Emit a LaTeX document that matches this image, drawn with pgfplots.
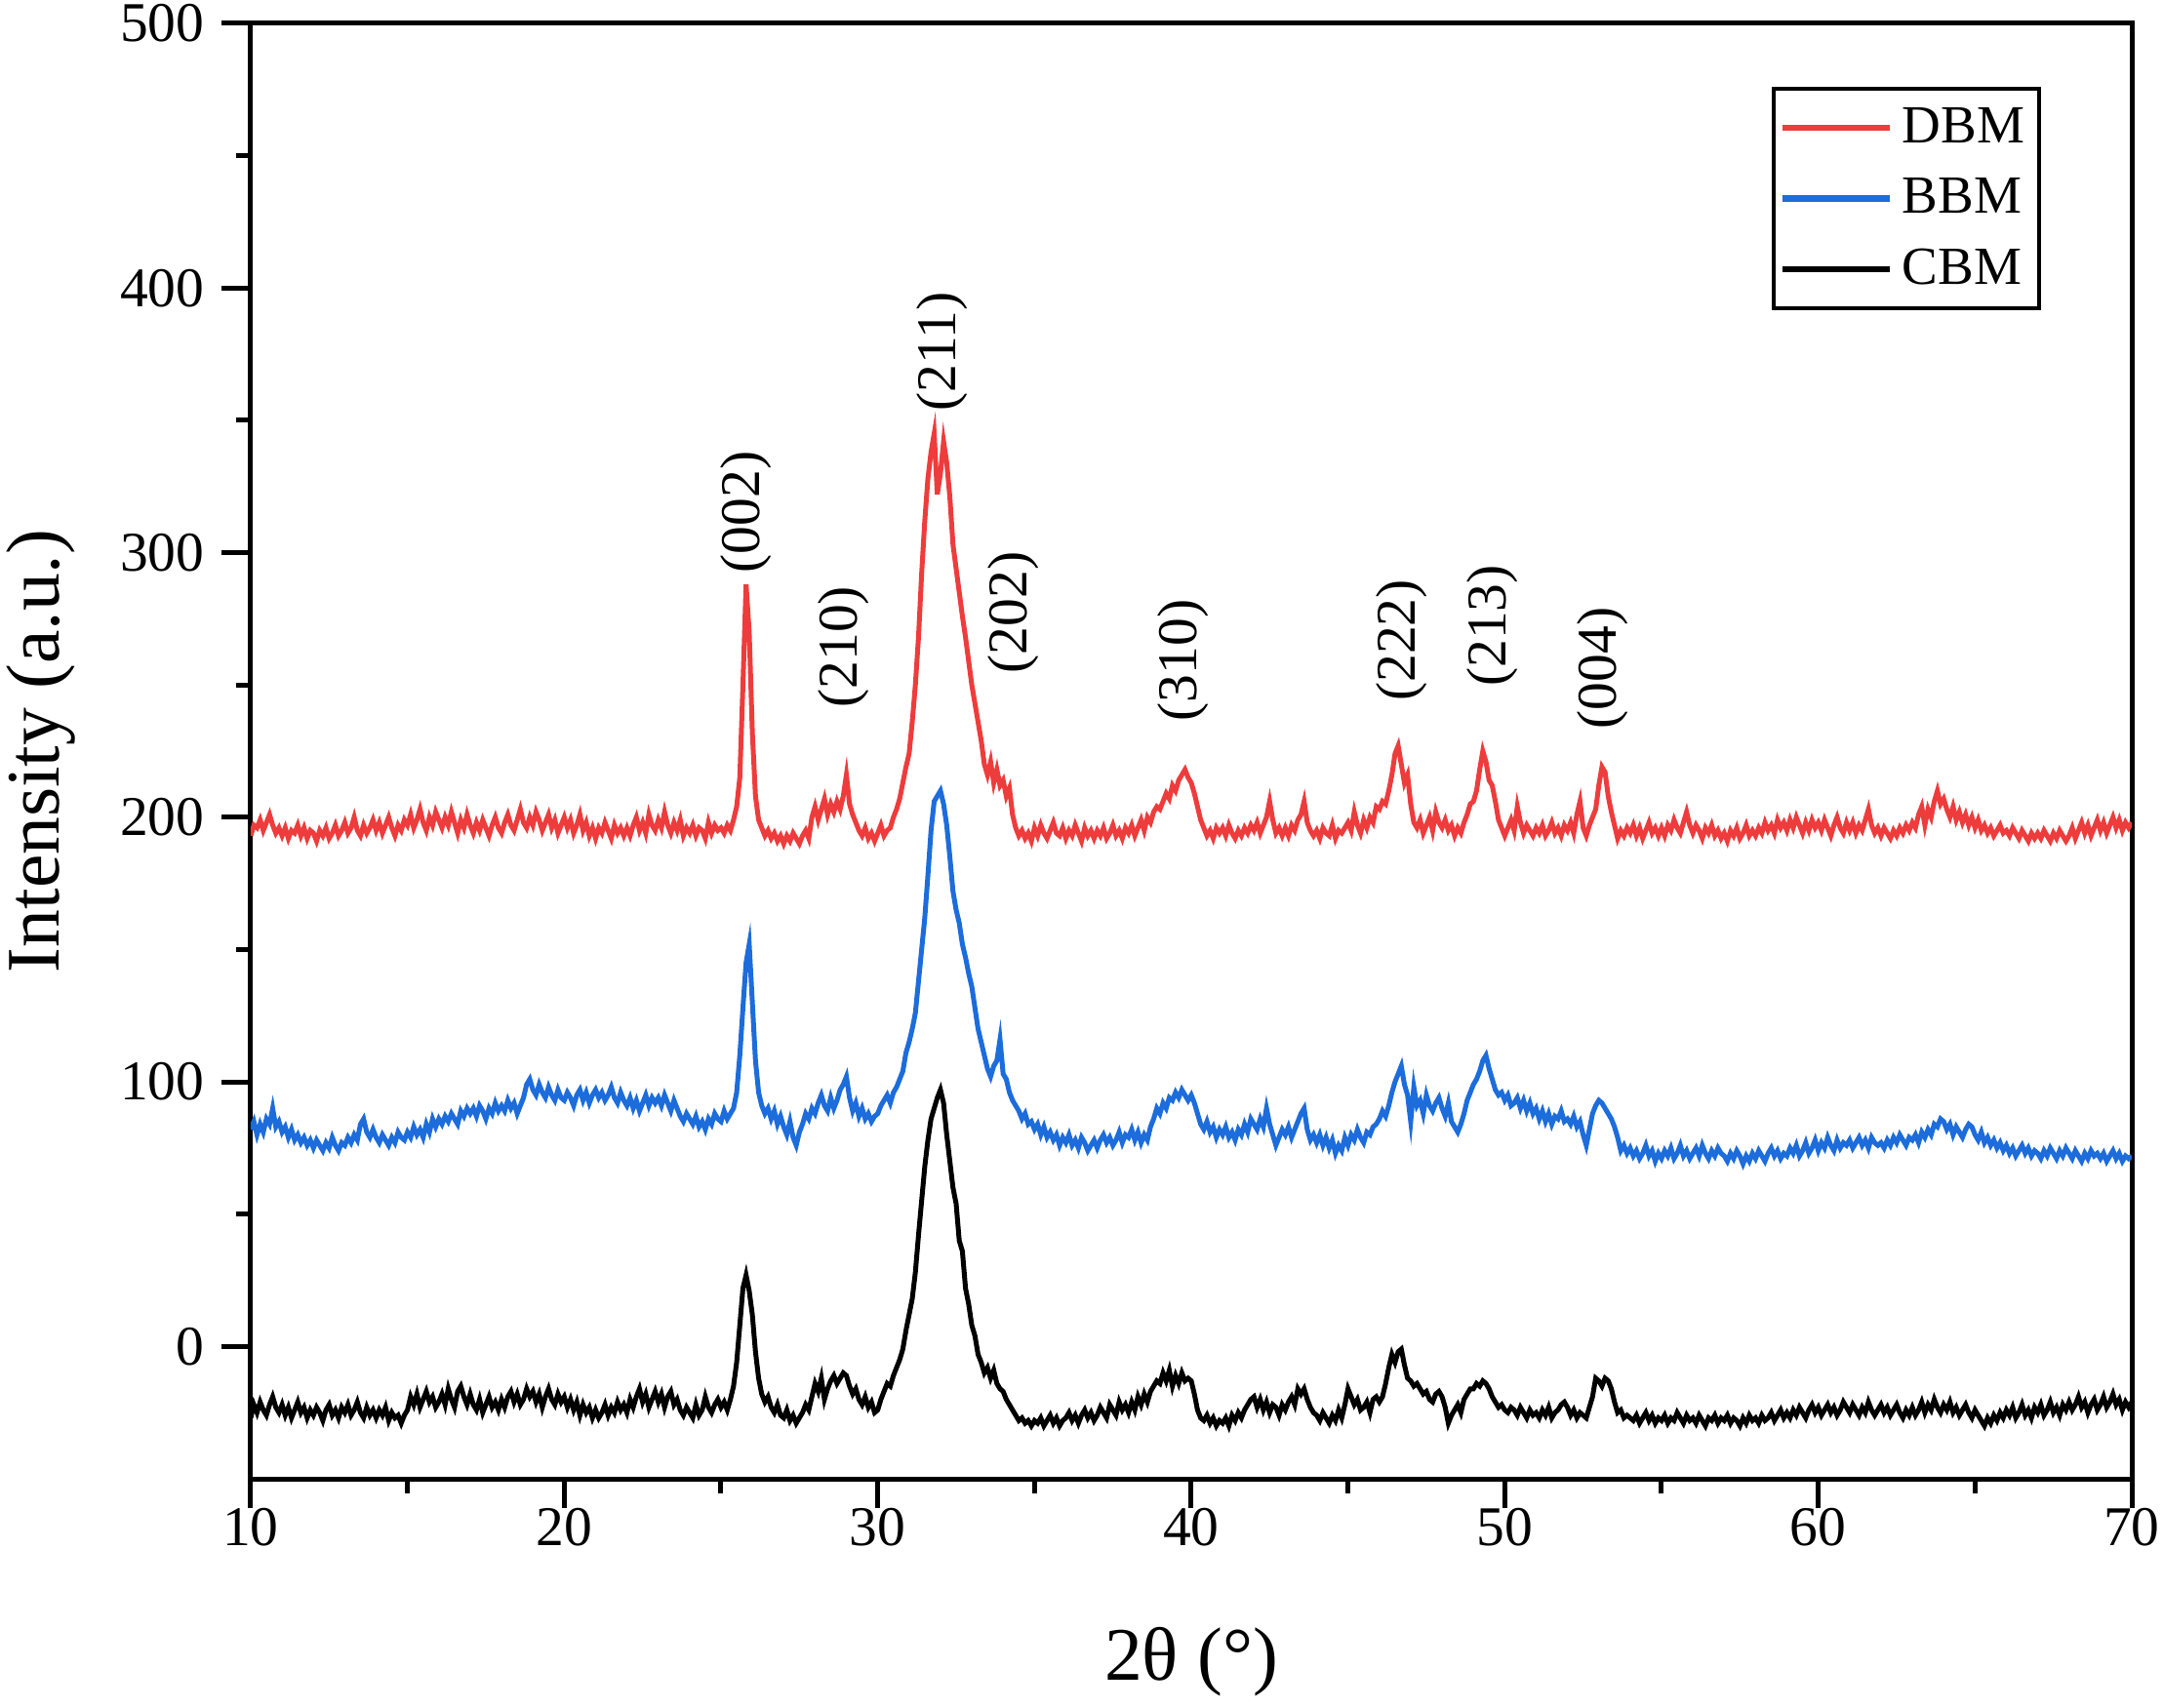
\documentclass[border=0pt]{standalone}
\usepackage{fontspec}
\setmainfont{Liberation Serif}
\usepackage{pgfplots}
\usepackage{pgfplotstable}
\pgfplotsset{compat=1.18}
\definecolor{dbm}{RGB}{238,60,60}
\definecolor{bbm}{RGB}{28,108,220}
\pgfplotstableread{
x d b c
10.0 193 82 -27
10.1 197 85 -22
10.2 196 80 -25
10.3 199 84 -21
10.4 195 81 -24
10.5 198 86 -26
10.6 201 84 -22
10.7 197 90 -19
10.8 194 83 -23
10.9 196 85 -25
11.0 193 81 -22
11.1 196 83 -26
11.2 192 79 -23
11.3 195 82 -27
11.4 194 78 -24
11.5 197 80 -21
11.6 193 77 -25
11.7 196 79 -23
11.8 192 76 -27
11.9 195 78 -24
12.0 194 75 -26
12.1 191 78 -23
12.2 195 76 -25
12.3 193 74 -28
12.4 196 77 -24
12.5 192 75 -22
12.6 194 79 -26
12.7 197 76 -24
12.8 193 74 -27
12.9 195 77 -23
13.0 198 76 -25
13.1 194 79 -22
13.2 196 77 -26
13.3 200 80 -24
13.4 195 78 -21
13.5 193 84 -25
13.6 197 86 -27
13.7 194 81 -23
13.8 196 79 -26
13.9 199 82 -24
14.0 195 79 -27
14.1 198 77 -24
14.2 194 80 -26
14.3 197 78 -23
14.4 200 76 -28
14.5 196 79 -25
14.6 193 77 -27
14.7 197 81 -26
14.8 195 79 -29
14.9 199 78 -26
15.0 197 81 -24
15.1 201 79 -19
15.2 196 83 -22
15.3 199 80 -18
15.4 203 82 -23
15.5 198 79 -20
15.6 195 84 -17
15.7 200 81 -21
15.8 197 86 -19
15.9 202 83 -23
16.0 199 86 -21
16.1 196 84 -18
16.2 200 87 -22
16.3 197 85 -16
16.4 202 88 -20
16.5 198 86 -23
16.6 194 84 -17
16.7 199 89 -15
16.8 196 87 -19
16.9 201 90 -22
17.0 197 88 -18
17.1 194 90 -22
17.2 198 87 -24
17.3 195 91 -20
17.4 199 89 -25
17.5 196 86 -22
17.6 193 90 -19
17.7 197 88 -23
17.8 200 92 -21
17.9 196 89 -24
18.0 194 91 -20
18.1 198 89 -23
18.2 201 93 -19
18.3 197 90 -17
18.4 195 92 -21
18.5 199 88 -18
18.6 203 91 -22
18.7 198 94 -20
18.8 196 99 -16
18.9 200 101 -19
19.0 197 97 -17
19.1 202 95 -21
19.2 199 99 -18
19.3 195 96 -23
19.4 198 94 -19
19.5 201 98 -16
19.6 196 95 -20
19.7 199 93 -22
19.8 194 97 -18
19.9 197 94 -21
20.0 200 93 -19
20.1 196 96 -23
20.2 199 94 -20
20.3 194 91 -24
20.4 197 95 -21
20.5 201 97 -26
20.6 195 93 -22
20.7 198 96 -25
20.8 193 92 -23
20.9 196 95 -27
21.0 192 97 -24
21.1 196 94 -27
21.2 194 96 -25
21.3 198 93 -22
21.4 195 95 -26
21.5 192 98 -23
21.6 197 94 -25
21.7 194 92 -21
21.8 196 96 -24
21.9 193 93 -22
22.0 196 91 -25
22.1 193 94 -20
22.2 197 90 -23
22.3 200 93 -19
22.4 195 89 -16
22.5 198 92 -21
22.6 194 95 -18
22.7 201 91 -23
22.8 197 94 -20
22.9 195 92 -17
23.0 199 94 -21
23.1 196 91 -18
23.2 202 95 -23
23.3 197 92 -19
23.4 194 89 -17
23.5 198 93 -22
23.6 195 90 -20
23.7 199 87 -24
23.8 193 85 -26
23.9 196 88 -23
24.0 194 86 -25
24.1 197 84 -27
24.2 193 87 -22
24.3 196 83 -26
24.4 195 85 -24
24.5 192 82 -19
24.6 198 86 -23
24.7 194 84 -25
24.8 197 88 -22
24.9 195 86 -20
25.0 196 85 -23
25.1 194 89 -21
25.2 197 86 -24
25.3 195 88 -20
25.4 199 90 -15
25.5 204 96 -6
25.6 215 110 8
25.7 250 128 22
25.8 288 145 27
25.9 270 152 21
26.0 232 130 12
26.1 208 108 -2
26.2 199 96 -12
26.3 196 91 -18
26.4 193 88 -21
26.5 195 90 -19
26.6 192 86 -23
26.7 194 89 -25
26.8 191 84 -22
26.9 193 87 -26
27.0 190 83 -27
27.1 193 80 -24
27.2 191 85 -28
27.3 194 79 -26
27.4 192 76 -29
27.5 190 81 -27
27.6 193 84 -25
27.7 195 88 -22
27.8 192 86 -24
27.9 200 90 -19
28.0 204 88 -14
28.1 199 92 -17
28.2 203 95 -12
28.3 207 91 -20
28.4 201 89 -16
28.5 205 94 -13
28.6 202 90 -11
28.7 206 93 -14
28.8 203 97 -12
28.9 208 99 -10
29.0 216 102 -11
29.1 205 94 -15
29.2 201 89 -18
29.3 198 92 -16
29.4 195 87 -20
29.5 193 90 -22
29.6 196 86 -19
29.7 192 88 -23
29.8 194 85 -21
29.9 191 87 -25
30.0 194 88 -24
30.1 197 91 -20
30.2 193 93 -17
30.3 195 95 -14
30.4 196 92 -15
30.5 200 96 -11
30.6 203 98 -8
30.7 207 101 -5
30.8 213 104 -1
30.9 219 111 6
31.0 224 115 12
31.1 236 120 18
31.2 250 126 28
31.3 268 138 42
31.4 292 150 55
31.5 312 162 68
31.6 328 178 78
31.7 338 195 86
31.8 345 206 90
31.9 322 208 94
32.0 330 210 97
32.1 342 205 92
32.2 334 197 80
32.3 321 185 70
32.4 303 172 60
32.5 294 165 54
32.6 285 160 40
32.7 276 152 36
32.8 268 147 22
32.9 259 141 16
33.0 250 136 8
33.1 243 128 4
33.2 236 120 -3
33.3 229 115 -6
33.4 220 110 -10
33.5 216 105 -8
33.6 221 102 -12
33.7 213 106 -9
33.8 218 108 -14
33.9 212 116 -16
34.0 214 103 -17
34.1 208 101 -20
34.2 211 96 -22
34.3 201 93 -24
34.4 196 91 -26
34.5 193 89 -28
34.6 195 86 -27
34.7 192 88 -29
34.8 194 84 -28
34.9 191 85 -30
35.0 196 82 -28
35.1 193 84 -29
35.2 197 80 -27
35.3 194 83 -30
35.4 192 79 -28
35.5 195 81 -26
35.6 198 78 -29
35.7 194 80 -27
35.8 193 76 -30
35.9 196 79 -28
36.0 192 77 -27
36.1 195 80 -25
36.2 193 76 -28
36.3 197 78 -26
36.4 194 75 -29
36.5 191 79 -26
36.6 196 77 -24
36.7 193 74 -27
36.8 195 76 -25
36.9 192 78 -28
37.0 195 75 -26
37.1 193 78 -23
37.2 196 80 -25
37.3 192 77 -27
37.4 194 79 -22
37.5 197 76 -24
37.6 193 78 -26
37.7 195 81 -21
37.8 192 77 -24
37.9 196 80 -22
38.0 194 79 -25
38.1 197 82 -21
38.2 193 78 -24
38.3 196 81 -19
38.4 199 77 -22
38.5 195 80 -18
38.6 200 78 -21
38.7 198 83 -17
38.8 202 86 -15
38.9 204 90 -13
39.0 203 88 -14
39.1 206 92 -10
39.2 209 90 -13
39.3 207 94 -9
39.4 212 93 -15
39.5 210 96 -11
39.6 214 94 -14
39.7 216 97 -10
39.8 218 95 -13
39.9 215 93 -12
40.0 213 95 -13
40.1 209 92 -18
40.2 204 88 -24
40.3 199 84 -27
40.4 196 82 -28
40.5 193 85 -26
40.6 195 81 -29
40.7 192 83 -27
40.8 196 79 -30
40.9 194 82 -28
41.0 196 80 -29
41.1 193 83 -27
41.2 197 79 -30
41.3 194 81 -26
41.4 192 78 -28
41.5 195 82 -25
41.6 193 80 -27
41.7 196 84 -24
41.8 194 81 -22
41.9 197 86 -20
42.0 195 84 -19
42.1 198 82 -23
42.2 194 86 -20
42.3 197 83 -24
42.4 200 90 -21
42.5 206 84 -25
42.6 199 80 -22
42.7 194 76 -23
42.8 196 79 -26
42.9 193 82 -22
43.0 196 80 -24
43.1 193 83 -21
43.2 197 79 -19
43.3 195 82 -22
43.4 199 85 -16
43.5 201 88 -18
43.6 206 90 -16
43.7 198 82 -20
43.8 195 78 -23
43.9 193 80 -25
44.0 195 77 -26
44.1 192 80 -28
44.2 196 76 -25
44.3 194 79 -27
44.4 193 75 -29
44.5 197 78 -26
44.6 192 73 -28
44.7 195 76 -24
44.8 194 74 -27
44.9 196 79 -22
45.0 198 76 -16
45.1 195 80 -19
45.2 202 78 -22
45.3 197 82 -20
45.4 194 79 -24
45.5 199 77 -23
45.6 196 81 -21
45.7 200 80 -25
45.8 198 83 -20
45.9 204 84 -19
46.0 203 86 -21
46.1 206 89 -19
46.2 205 87 -14
46.3 210 91 -8
46.4 216 96 -3
46.5 224 100 -6
46.6 227 103 -2
46.7 220 106 -1
46.8 213 99 -7
46.9 216 95 -12
47.0 205 85 -13
47.1 198 98 -15
47.2 196 91 -14
47.3 199 93 -16
47.4 194 88 -18
47.5 197 95 -17
47.6 200 91 -20
47.7 195 89 -21
47.8 202 92 -18
47.9 198 94 -17
48.0 196 90 -19
48.1 199 87 -23
48.2 195 92 -29
48.3 197 85 -26
48.4 193 83 -24
48.5 196 81 -22
48.6 194 84 -25
48.7 198 88 -20
48.8 201 93 -18
48.9 205 96 -16
49.0 206 99 -16
49.1 210 101 -14
49.2 218 104 -15
49.3 225 108 -13
49.4 221 110 -14
49.5 214 105 -16
49.6 212 101 -19
49.7 206 97 -21
49.8 199 95 -23
49.9 196 96 -22
50.0 193 93 -24
50.1 196 95 -25
50.2 199 91 -23
50.3 195 92 -24
50.4 204 94 -26
50.5 198 90 -23
50.6 194 93 -25
50.7 197 89 -27
50.8 195 92 -24
50.9 193 88 -26
51.0 196 90 -25
51.1 194 86 -27
51.2 197 89 -24
51.3 193 85 -26
51.4 195 88 -23
51.5 198 84 -27
51.6 194 87 -25
51.7 196 86 -24
51.8 193 89 -22
51.9 197 85 -21
52.0 195 86 -23
52.1 198 84 -26
52.2 194 87 -24
52.3 201 83 -27
52.4 206 85 -25
52.5 196 80 -26
52.6 193 76 -27
52.7 197 82 -23
52.8 200 88 -19
52.9 203 91 -12
53.0 212 93 -13
53.1 219 92 -15
53.2 217 90 -12
53.3 208 88 -13
53.4 202 86 -16
53.5 197 83 -21
53.6 192 79 -25
53.7 195 74 -24
53.8 193 76 -27
53.9 196 73 -26
54.0 194 75 -27
54.1 197 72 -28
54.2 193 74 -26
54.3 196 71 -29
54.4 192 73 -27
54.5 195 76 -25
54.6 198 72 -28
54.7 194 74 -26
54.8 196 70 -29
54.9 193 73 -27
55.0 196 71 -28
55.1 193 74 -26
55.2 197 72 -29
55.3 195 75 -27
55.4 199 71 -28
55.5 196 73 -25
55.6 194 76 -27
55.7 198 72 -29
55.8 202 74 -26
55.9 197 71 -28
56.0 194 73 -27
56.1 197 75 -29
56.2 195 72 -26
56.3 192 76 -28
56.4 196 73 -30
56.5 194 71 -27
56.6 197 74 -28
56.7 193 72 -26
56.8 195 75 -29
56.9 192 73 -27
57.0 194 72 -28
57.1 191 70 -26
57.2 195 73 -29
57.3 193 71 -27
57.4 196 74 -28
57.5 192 72 -30
57.6 194 69 -27
57.7 197 72 -29
57.8 193 70 -26
57.9 195 73 -28
58.0 193 71 -27
58.1 196 74 -29
58.2 194 72 -26
58.3 198 70 -28
58.4 195 73 -27
58.5 197 75 -25
58.6 194 72 -28
58.7 199 74 -26
58.8 196 71 -24
58.9 198 73 -27
59.0 195 72 -25
59.1 199 75 -27
59.2 196 73 -24
59.3 200 76 -26
59.4 197 72 -23
59.5 194 74 -25
59.6 198 77 -27
59.7 195 73 -24
59.8 199 75 -22
59.9 196 78 -25
60.0 198 74 -23
60.1 195 77 -26
60.2 199 75 -24
60.3 196 79 -22
60.4 193 76 -25
60.5 197 74 -23
60.6 200 78 -26
60.7 196 75 -24
60.8 194 77 -21
60.9 198 76 -23
61.0 195 78 -25
61.1 198 75 -22
61.2 194 77 -24
61.3 197 79 -26
61.4 195 76 -23
61.5 199 78 -25
61.6 203 75 -21
61.7 197 79 -24
61.8 194 77 -26
61.9 196 76 -24
62.0 193 77 -22
62.1 196 75 -25
62.2 194 78 -23
62.3 192 76 -26
62.4 195 79 -24
62.5 193 77 -22
62.6 196 80 -25
62.7 194 78 -27
62.8 197 76 -24
62.9 195 79 -26
63.0 198 78 -23
63.1 196 80 -26
63.2 201 77 -24
63.3 204 81 -21
63.4 197 79 -25
63.5 203 82 -22
63.6 200 80 -24
63.7 206 84 -20
63.8 210 83 -23
63.9 205 86 -25
64.0 207 85 -22
64.1 203 82 -24
64.2 200 84 -21
64.3 204 80 -25
64.4 199 83 -23
64.5 202 81 -26
64.6 198 79 -24
64.7 201 82 -22
64.8 197 84 -25
64.9 200 83 -27
65.0 196 80 -24
65.1 199 78 -26
65.2 195 81 -28
65.3 197 77 -30
65.4 194 79 -27
65.5 196 76 -29
65.6 193 78 -26
65.7 195 75 -28
65.8 197 77 -25
65.9 194 74 -27
66.0 195 76 -24
66.1 193 73 -26
66.2 196 75 -23
66.3 194 72 -27
66.4 192 74 -25
66.5 195 76 -22
66.6 193 73 -26
66.7 191 75 -24
66.8 194 72 -27
66.9 192 74 -23
67.0 194 73 -25
67.1 192 71 -22
67.2 195 74 -26
67.3 193 72 -24
67.4 191 75 -21
67.5 194 73 -25
67.6 192 71 -23
67.7 195 74 -26
67.8 193 72 -22
67.9 191 75 -24
68.0 193 73 -21
68.1 196 71 -24
68.2 192 74 -22
68.3 195 72 -19
68.4 198 70 -23
68.5 194 73 -21
68.6 197 71 -25
68.7 193 74 -22
68.8 196 72 -20
68.9 199 73 -24
69.0 195 71 -22
69.1 198 73 -19
69.2 194 70 -23
69.3 197 72 -21
69.4 200 74 -18
69.5 196 71 -22
69.6 199 73 -20
69.7 195 70 -24
69.8 198 72 -21
69.9 196 71 -23
70.0 198 72 -21
}\xrd

\begin{document}
\begin{tikzpicture}
\path[use as bounding box] (-51.4pt,-46.8pt) rectangle (392pt,303.2pt);
\begin{axis}[
  at={(0pt,0pt)}, anchor=south west,
  scale only axis, width=385.6pt, height=298.4pt,
  xmin=10, xmax=70, ymin=-50, ymax=500,
  xtick={10,20,...,70}, minor xtick={15,25,...,65},
  ytick={0,100,...,500}, minor ytick={50,150,...,450},
  tick pos=left, tick align=outside,
  major tick length=6pt, minor tick length=3pt,
  every tick/.style={black, line width=1pt},
  axis line style={line width=1pt},
  tick label style={font=\fontsize{11.5}{13}\selectfont},
  xticklabel style={yshift=3.5pt},
  /pgf/number format/assume math mode=true,
  xlabel={2θ (°)}, ylabel={Intensity (a.u.)},
  label style={font=\fontsize{15.5}{18}\selectfont},
  xlabel style={at={(axis description cs:0.5,-0.126)}, anchor=center},
  ylabel style={at={(axis description cs:-0.1115,0.5)}, anchor=center},
  legend style={at={(0.9518,0.9564)}, anchor=north east, draw=black, line width=0.8pt,
    font=\fontsize{11}{13}\selectfont, inner sep=1pt, row sep=0.5pt,
    nodes={text height=8pt, text depth=2pt, inner sep=2pt}},
  legend cell align=left,
  legend image code/.code={\draw[#1, line width=1.3pt] (0pt,0pt) -- (22pt,0pt);},
]
\addplot[dbm, line width=1pt] table[x=x, y=d] {\xrd};
\addlegendentry{DBM}
\addplot[bbm, line width=1pt] table[x=x, y=b] {\xrd};
\addlegendentry{BBM}
\addplot[black, line width=1pt] table[x=x, y=c] {\xrd};
\addlegendentry{CBM}
\begin{scope}[every node/.style={rotate=90, anchor=west, inner sep=0pt, font=\fontsize{11.5}{13}\selectfont}]
\node at (axis cs:25.8,292) {(002)};
\node at (axis cs:28.9,241) {(210)};
\node at (axis cs:32.05,353) {(211)};
\node at (axis cs:34.34,254) {(202)};
\node at (axis cs:39.75,236) {(310)};
\node at (axis cs:46.7,243.5) {(222)};
\node at (axis cs:49.6,249) {(213)};
\node at (axis cs:53.13,233) {(004)};
\end{scope}
\end{axis}
\end{tikzpicture}
\end{document}
